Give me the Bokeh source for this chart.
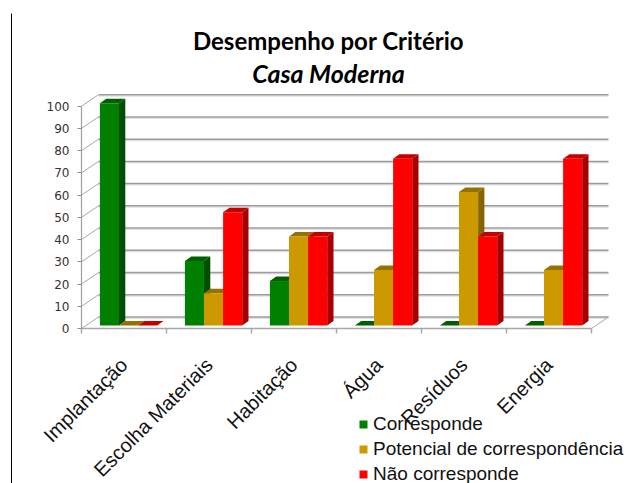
from math import pi
from bokeh.plotting import figure
from bokeh.embed import file_html
from bokeh.resources import INLINE
from bokeh.models import FixedTicker, Legend, LegendItem, Range1d, Label

categories = ["Implantação", "Escolha Materiais", "Habitação", "Água", "Resíduos", "Energia"]
corresponde = [100, 29, 20, 0, 0, 0]
potencial = [0, 14.5, 40, 25, 60, 25]
nao_corresponde = [0, 51, 40, 75, 40, 75]
y_ticks = list(range(0, 101, 10))

W, H = 626, 483
PX_X = 85.0
PX_Y = 2.223
ORIGIN_X, ORIGIN_Y = 81, 328


def dx(px):
    return (px - ORIGIN_X) / PX_X


def dy(py):
    return (ORIGIN_Y - py) / PX_Y


p = figure(width=W, height=H, output_backend="svg", toolbar_location=None,
           x_range=Range1d(-ORIGIN_X / PX_X, (W - ORIGIN_X) / PX_X),
           y_range=Range1d(-(H - ORIGIN_Y) / PX_Y, ORIGIN_Y / PX_Y),
           min_border=0, background_fill_color="white", border_fill_color="white")
p.outline_line_color = None
p.grid.visible = False

WALL_X = 17 / PX_X
WALL_Y = 11.5 / PX_Y
xs0 = [WALL_X] * len(y_ticks)
xs1 = [len(categories) + WALL_X] * len(y_ticks)
ys = [v + WALL_Y for v in y_ticks]
p.segment(xs0, [y - 0.55 for y in ys], xs1, [y - 0.55 for y in ys], line_color="#e2e2e2", line_width=1.5)
p.segment(xs0, ys, xs1, ys, line_color="#9c9c9c", line_width=1.5)
p.segment([0] * len(y_ticks), y_ticks, xs0, ys, line_color="#a8a8a8", line_width=1)
p.segment([len(categories)], [0], [len(categories) + WALL_X], [WALL_Y], line_color="#a8a8a8", line_width=1)

BAR_W = 19.1 / PX_X
GROUP_OFF = 18.4 / PX_X
FLOOR = 3 / PX_Y
DEPTH_X = 6.3 / PX_X
DEPTH_Y = 4.5 / PX_Y

series = [
    ("Corresponde", corresponde, "#008000", "#004f00", "#005f00"),
    ("Potencial de correspondência", potencial, "#CC9900", "#866400", "#967000"),
    ("Não corresponde", nao_corresponde, "#FF0000", "#a60000", "#c40000"),
]
fronts = []
for k, (name, vals, col, side, topc) in enumerate(series):
    x0 = [i + GROUP_OFF + k * BAR_W for i in range(len(vals))]
    x1 = [x + BAR_W for x in x0]
    t = [v + FLOOR for v in vals]
    p.patches([[a, a + DEPTH_X, a + DEPTH_X, a] for a in x1],
              [[FLOOR, FLOOR + DEPTH_Y, h + DEPTH_Y, h] for h in t],
              fill_color=side, line_color=None)
    p.patches([[a, b, b + DEPTH_X, a + DEPTH_X] for a, b in zip(x0, x1)],
              [[h, h, h + DEPTH_Y, h + DEPTH_Y] for h in t],
              fill_color=topc, line_color=None)
    r = p.vbar(x=[(a + b) / 2 for a, b in zip(x0, x1)], width=BAR_W, bottom=FLOOR, top=t,
               fill_color=col, line_color=None)
    fronts.append((name, r))

xa = p.xaxis[0]
xa.fixed_location = 0
xa.bounds = (0, len(categories))
xa.ticker = FixedTicker(ticks=[i + 0.5 for i in range(len(categories))],
                        minor_ticks=list(range(len(categories) + 1)))
xa.major_label_overrides = {i + 0.5: c for i, c in enumerate(categories)}
xa.major_label_orientation = pi / 4
xa.major_tick_out = 0
xa.major_tick_in = 0
xa.minor_tick_out = 5
xa.minor_tick_in = 0
xa.minor_tick_line_color = "#a8a8a8"
xa.minor_tick_line_width = 1.5
xa.axis_line_color = "#a8a8a8"
xa.axis_line_width = 1.5
xa.major_label_text_font = "Liberation Sans"
xa.major_label_text_font_size = "20px"
xa.major_label_text_color = "#111111"
xa.major_label_standoff = 28

ya = p.yaxis[0]
ya.fixed_location = 0
ya.bounds = (0, 100)
ya.ticker = FixedTicker(ticks=y_ticks)
ya.minor_tick_line_color = None
ya.major_tick_out = 4
ya.major_tick_in = 0
ya.major_tick_line_color = "#8c8c8c"
ya.axis_line_color = "#a0a0a0"
ya.axis_line_width = 1.2
ya.major_label_text_font = "DejaVu Sans"
ya.major_label_text_font_size = "12px"
ya.major_label_text_color = "#333333"
ya.major_label_standoff = 8

legend = Legend(items=[LegendItem(label=n, renderers=[r]) for n, r in fronts],
                location=(358, -2),
                glyph_width=10, glyph_height=10, label_standoff=5, spacing=3,
                padding=0, margin=0, label_height=22,
                background_fill_alpha=0, border_line_color=None,
                label_text_font="Liberation Sans", label_text_font_size="19px",
                label_text_color="#111111")
p.add_layout(legend, "center")

p.add_layout(Label(x=dx(328), y=dy(40), text="Desempenho por Critério", text_align="center",
                   text_baseline="middle", text_font="Lato", text_font_style="bold",
                   text_font_size="24px", text_color="#000000"))
p.add_layout(Label(x=dx(328), y=dy(72), text="Casa Moderna", text_align="center",
                   text_baseline="middle", text_font="Lato", text_font_style="bold italic",
                   text_font_size="25px", text_color="#000000"))

p.segment([dx(11)], [dy(13)], [dx(11)], [dy(483)], line_color="#000000", line_width=1)

open("out.html", "w").write(file_html(p, INLINE))
